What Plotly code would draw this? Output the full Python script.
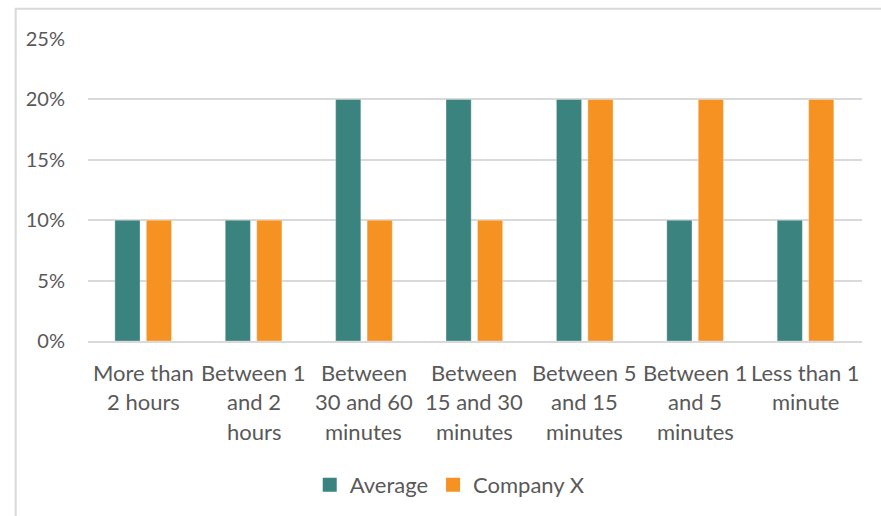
import plotly.graph_objects as go

categories = ["More than 2 hours", "Between 1 and 2 hours", "Between 30 and 60 minutes",
              "Between 15 and 30 minutes", "Between 5 and 15 minutes", "Between 1 and 5 minutes",
              "Less than 1 minute"]
category_lines = [["More than", "2 hours"], ["Between 1", "and 2", "hours"], ["Between", "30 and 60", "minutes"],
                  ["Between", "15 and 30", "minutes"], ["Between 5", "and 15", "minutes"], ["Between 1", "and 5", "minutes"],
                  ["Less than 1", "minute"]]
average = [0.10, 0.10, 0.20, 0.20, 0.20, 0.10, 0.10]
company_x = [0.10, 0.10, 0.10, 0.10, 0.20, 0.20, 0.20]
y_ticks = [0, 0.05, 0.10, 0.15, 0.20, 0.25]
y_tick_labels = ["0%", "5%", "10%", "15%", "20%", "25%"]

FONT = "Lato"
TEXT = "#595959"
TEAL = "#3B837E"
ORANGE = "#F59222"

fig = go.Figure()
fig.add_trace(go.Bar(name="Average", x=categories, y=average, marker_color=TEAL, showlegend=False,
                     marker_line=dict(color="rgba(255,255,255,0.3)", width=1)))
fig.add_trace(go.Bar(name="Company X", x=categories, y=company_x, marker_color=ORANGE, showlegend=False,
                     marker_line=dict(color="rgba(255,255,255,0.3)", width=1)))
# legend entries with square swatches
fig.add_trace(go.Scatter(name="Average", x=[None], y=[None], mode="markers",
                         marker=dict(symbol="square", size=14, color=TEAL)))
fig.add_trace(go.Scatter(name="Company X", x=[None], y=[None], mode="markers",
                         marker=dict(symbol="square", size=14, color=ORANGE)))

annotations = []
for cat, lines in zip(categories, category_lines):
    for i, line in enumerate(lines):
        annotations.append(dict(x=cat, xref="x", y=0, yref="paper", yanchor="middle",
                                yshift=-(31 + 29.5 * i), text=line, showarrow=False,
                                font=dict(family=FONT, size=22, color=TEXT)))

fig.update_layout(
    width=881, height=516,
    margin=dict(l=88, r=19, t=39, b=174),
    paper_bgcolor="white", plot_bgcolor="white",
    barmode="group", bargap=0.43, bargroupgap=0.2,
    font=dict(family=FONT, size=20, color=TEXT),
    showlegend=True,
    legend=dict(orientation="h", x=0.468, xanchor="center", y=-0.472, yanchor="middle",
                font=dict(family=FONT, size=22, color=TEXT), itemwidth=30, traceorder="normal"),
    xaxis=dict(showgrid=False, showline=True, linecolor="#d9d9d9", linewidth=2, ticks="",
               showticklabels=False),
    yaxis=dict(range=[0, 0.25], tickvals=y_ticks, ticktext=y_tick_labels, showgrid=True,
               gridcolor="#d9d9d9", gridwidth=1.5, zeroline=False, showline=False,
               ticks="", ticklabelstandoff=22,
               tickfont=dict(family=FONT, size=20, color=TEXT)),
    annotations=annotations,
    shapes=[dict(type="rect", xref="paper", yref="paper", x0=-0.0934, x1=1.05, y0=-0.9, y1=1.1,
                 line=dict(color="#d9d9d9", width=2), fillcolor="rgba(0,0,0,0)", layer="below")],
)

fig.write_html("out.html")
